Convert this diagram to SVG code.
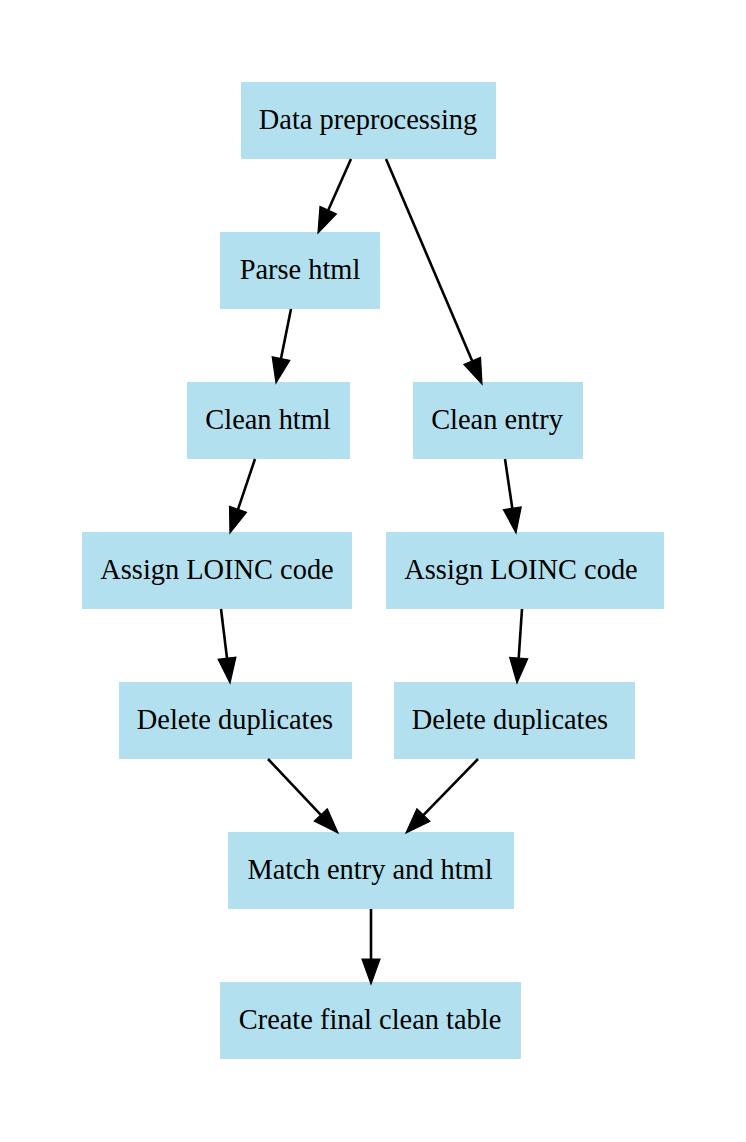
<svg xmlns="http://www.w3.org/2000/svg" width="746" height="1142" viewBox="0 0 746 1142">
<style>
.n rect{fill:#b3e0ee;stroke:none}
.n text{font-family:"Liberation Serif","Times New Roman",serif;font-size:28.4px;fill:#000;text-anchor:middle}
.e line{stroke:#000;stroke-width:2.6}
.e polygon{fill:#000;stroke:#000;stroke-width:1.2}
</style>
<rect width="746" height="1142" fill="#fff"/>
<g id="n1" class="n"><rect x="241" y="82" width="255" height="77"/><text x="368" y="129">Data preprocessing</text></g>
<g id="n2" class="n"><rect x="220" y="232" width="160" height="77"/><text x="300" y="279">Parse html</text></g>
<g id="n3" class="n"><rect x="187" y="382" width="163" height="77"/><text x="268" y="429">Clean html</text></g>
<g id="n4" class="n"><rect x="413" y="382" width="170" height="77"/><text x="497" y="429">Clean entry</text></g>
<g id="n5" class="n"><rect x="82" y="532" width="270" height="77"/><text x="217" y="579">Assign LOINC code</text></g>
<g id="n6" class="n"><rect x="386" y="532" width="278" height="77"/><text x="521" y="579">Assign LOINC code</text></g>
<g id="n7" class="n"><rect x="119" y="682" width="233" height="77"/><text x="235" y="729">Delete duplicates</text></g>
<g id="n8" class="n"><rect x="394" y="682" width="241" height="77"/><text x="510" y="729">Delete duplicates</text></g>
<g id="n9" class="n"><rect x="228" y="832" width="286" height="77"/><text x="370" y="879">Match entry and html</text></g>
<g id="n10" class="n"><rect x="220" y="982" width="301" height="77"/><text x="370" y="1029">Create final clean table</text></g>
<g id="edges" class="e">
<line x1="351" y1="159" x2="328.2" y2="210.2"/><polygon points="318,233 336.4,213.9 320.0,206.5"/>
<line x1="386" y1="159" x2="472.2" y2="361"/><polygon points="482,384 480.5,357.5 463.9,364.5"/>
<line x1="291" y1="309" x2="281" y2="358.5"/><polygon points="276,383 289.8,360.3 272.2,356.7"/>
<line x1="255" y1="459" x2="238" y2="509.3"/><polygon points="230,533 246.5,512.2 229.5,506.4"/>
<line x1="505" y1="459" x2="512.3" y2="508.3"/><polygon points="516,533 521.2,507.0 503.4,509.6"/>
<line x1="221" y1="609" x2="227" y2="658.2"/><polygon points="230,683 235.9,657.1 218.1,659.3"/>
<line x1="522" y1="609" x2="518.7" y2="658.1"/><polygon points="517,683 527.7,658.7 509.7,657.5"/>
<line x1="268" y1="759" x2="320.8" y2="814.9"/><polygon points="338,833 327.3,808.7 314.3,821.1"/>
<line x1="478" y1="759" x2="423.4" y2="815.1"/><polygon points="406,833 429.9,821.4 416.9,808.8"/>
<line x1="371" y1="909" x2="371" y2="959"/><polygon points="371,984 380,959 362,959"/>
</g>
</svg>
